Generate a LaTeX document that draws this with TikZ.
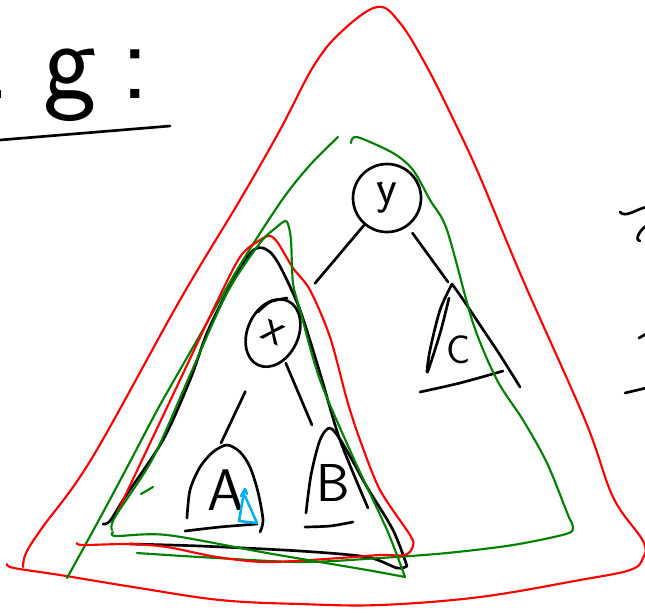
\documentclass[tikz,border=0pt]{standalone}
\usepackage{tikz}
\usetikzlibrary{shapes.geometric}
\definecolor{inkred}{RGB}{255,0,0}
\definecolor{inkgreen}{RGB}{0,128,0}
\definecolor{inkcyan}{RGB}{0,176,240}
\definecolor{inkblack}{RGB}{0,0,0}

\begin{document}
\begin{tikzpicture}[
  x=0.75pt, y=-0.75pt,
  pen/.style={draw=inkblack, line width=2pt, line cap=round, line join=round},
  redpen/.style={draw=inkred, line width=1.6pt, line cap=round, line join=round},
  greenpen/.style={draw=inkgreen, line width=1.6pt, line cap=round, line join=round},
  bluepen/.style={draw=inkcyan, line width=1.9pt, line cap=round, line join=round},
  treenode/.style={pen, inner sep=0pt, font=\sffamily\fontsize{36}{36}\selectfont},
  leaf/.style={inner sep=0pt, font=\sffamily\fontsize{40}{40}\selectfont},
  edge/.style={pen},
]
\useasboundingbox (0,0) rectangle (645,612);

% heading
\node[anchor=base west, inner sep=0pt, font=\sffamily\fontsize{85}{85}\selectfont] (eg) at (-58,98) {E\hspace{28pt}g\hspace{18pt}:};
\draw[pen] (0,140) -- (170,126);

% tree nodes
\node[treenode, circle, minimum size=51pt] (y) at (387,198) {y};
\fill[inkblack] (381,183) circle (1.3pt);
\node[treenode, ellipse, minimum width=38pt, minimum height=53pt, rotate=-25] (x) at (273,333) {x};
\draw[pen] plot[smooth] coordinates {(258,312) (270,302) (287,298)};
\node[leaf, font=\sffamily\fontsize{44}{44}\selectfont] (A) at (226,490) {A};
\node[leaf] (B) at (333,483) {B};
\node[leaf, font=\sffamily\fontsize{30}{30}\selectfont] (C) at (459,350) {C};
\coordinate (Atop) at (221,443);
\coordinate (Btop) at (312,425);
\coordinate (Ctop) at (448,282);

% edges
\draw[edge, shorten >=22pt] (y) -- (x);
\draw[edge, shorten <=6pt] (y) -- (Ctop);
\draw[edge, shorten <=21pt] (x) -- (Atop);
\draw[edge, shorten <=2pt] (x) -- (Btop);

% subtrees
\draw[pen] plot[smooth] coordinates {(187,518) (190,490) (200,467) (213,452) (227,445) (240,452) (250,467) (258,492) (263,520) (260,532)};
\draw[pen] plot[smooth] coordinates {(185,531) (220,527) (257,524)};
\draw[pen] plot[smooth] coordinates {(306,513) (311,475) (320,440) (330,428) (343,444) (367,487) (393,530) (407,566)}
  -- plot[smooth] coordinates {(407,566) (397,568) (367,557) (300,551) (200,546) (130,544)};
\draw[pen] plot[smooth] coordinates {(305,527) (330,526) (353,522)};
\draw[pen] plot[smooth] coordinates {(449,298) (441,330) (431,362) (427,372) (430,350) (440,310) (452,284)}
  -- plot[smooth] coordinates {(452,284) (462,298) (480,325) (500,355) (520,387)};
\draw[pen] plot[smooth] coordinates {(420,392) (460,383) (503,371)};

% outline of the x subtree
\draw[pen] plot[smooth] coordinates {(103,524) (110,521) (125,497) (163,440) (190,380) (207,333) (228,290) (245,260) (255,249) (263,248) (272,254) (282,270) (300,310) (320,373) (340,440) (368,508)};

% marker
\draw[bluepen] (244,492) -- (239,521) -- (257,523) -- (245,496);
\draw[bluepen] (241,496) -- (245,489) -- (247,494);

% red and green outlines
\draw[redpen] plot[smooth, tension=0.6] coordinates {(7,564) (14,568) (60,575) (133,587) (220,600) (300,604) (380,605) (480,597) (580,580) (630,570) (643,558) (643,541) (613,497) (585,420) (523,280) (480,177) (457,127) (427,67) (400,23) (377,7) (340,33) (313,67) (280,130) (240,200) (180,300) (92,458) (42,528) (26,553) (23,567)};
\draw[greenpen] plot[smooth] coordinates {(338,137) (310,165) (282,200) (240,265) (200,335) (160,405) (132,458) (100,518) (67,578)};
\draw[greenpen] plot[smooth] coordinates {(351,143) (357,137) (393,153) (413,170) (430,200) (447,230) (473,323) (497,380) (523,420) (547,463) (568,515) (573,527) (566,534) (513,545) (447,553) (380,558) (300,562) (200,557) (137,553)};
\draw[redpen] plot[smooth] coordinates {(77,543) (83,545) (130,544) (167,547) (217,557) (267,562) (340,558) (380,555) (405,555) (413,546) (410,535) (380,490) (360,440) (347,400) (330,337) (310,290) (293,268) (278,243) (270,236) (260,240) (240,257) (213,310) (180,380) (143,458) (117,513)};
\draw[greenpen] plot[smooth] coordinates {(113,532) (116,536) (167,535) (267,553) (367,570) (405,577)}
  -- plot[smooth] coordinates {(405,577) (387,530) (353,457) (320,380) (300,310) (293,283) (291,240) (288,224) (285,221) (278,226) (260,243) (227,293) (190,375) (153,458) (115,517) (112,530)};
\draw[greenpen] (141,494) -- (153,487);

% cut-off marks on the right
\draw[pen] (620,212) .. controls (625,218) and (635,210) .. (646,207);
\draw[pen] (646,226) .. controls (640,230) and (634,240) .. (640,241);
\draw[pen] (639,338) -- (646,334);
\draw[pen] (625,393) -- (646,388);
\end{tikzpicture}
\end{document}
